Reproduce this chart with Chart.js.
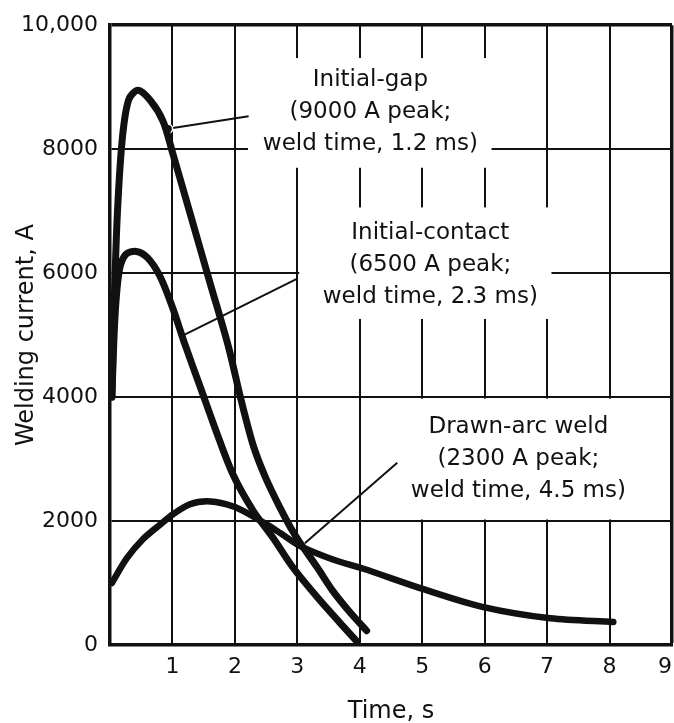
<!DOCTYPE html>
<html>
<head>
<meta charset="utf-8">
<script src="https://cdn.jsdelivr.net/npm/chart.js@4.4.1/dist/chart.umd.min.js"></script>
<style>
  html, body { margin: 0; padding: 0; background: #fff; overflow: hidden; }
  #wrap { width: 674px; height: 723px; position: relative; }
  canvas { display: block; }
</style>
</head>
<body>
<div id="wrap"><canvas id="chart-soldadura"></canvas></div>
<script>
/*
  ==================================================
  ====================== DATOS ======================
  ==================================================
*/

// Initial-gap (9000 A peak)
const tiempoGap = [0.03, 0.07, 0.12, 0.20, 0.30, 0.45, 0.65, 0.85, 1.00, 1.30, 1.60, 1.90, 2.10, 2.30, 2.50, 2.72, 2.90, 3.05, 3.32, 3.57, 3.85, 4.11];
const corrienteGap = [4000, 5600, 7000, 8200, 8800, 8950, 8780, 8450, 7950, 6900, 5850, 4800, 3950, 3200, 2680, 2220, 1880, 1640, 1250, 870, 520, 230];

// Initial-contact (6500 A peak)
const tiempoContacto = [0.03, 0.08, 0.15, 0.25, 0.42, 0.60, 0.80, 1.00, 1.20, 1.45, 1.70, 1.97, 2.29, 2.61, 2.93, 3.32, 3.69, 3.96];
const corrienteContacto = [4000, 5300, 6050, 6300, 6350, 6250, 5950, 5450, 4850, 4150, 3450, 2750, 2170, 1730, 1250, 770, 350, 50];

// Drawn-arc weld (2300 A peak)
const tiempoArco = [0.03, 0.27, 0.53, 0.80, 1.01, 1.28, 1.55, 1.87, 2.10, 2.50, 2.75, 3.04, 3.57, 4.06, 5.02, 5.98, 7.05, 8.06];
const corrienteArco = [1000, 1400, 1710, 1940, 2110, 2270, 2320, 2270, 2180, 1950, 1790, 1600, 1380, 1230, 900, 610, 430, 370];

// lineas guia de las etiquetas
const guiaGapX = [0.93, 2.22];
const guiaGapY = [8330, 8530];
const guiaContactoX = [1.18, 3.0];
const guiaContactoY = [5000, 5910];
const guiaArcoX = [3.12, 4.6];
const guiaArcoY = [1640, 2940];

const xTickLabels = ['', '1', '2', '3', '4', '5', '6', '7', '8', '9'];
const yTickLabels = ['0', '2000', '4000', '6000', '8000', '10,000'];

const textoGap = ['Initial-gap', '(9000 A peak;', 'weld time, 1.2 ms)'];
const textoContacto = ['Initial-contact', '(6500 A peak;', 'weld time, 2.3 ms)'];
const textoArco = ['Drawn-arc weld', '(2300 A peak;', 'weld time, 4.5 ms)'];

/*
  ==================================================
  ==================== AUXILIARES ===================
  ==================================================
*/

/** @param {number[]} xs @param {number[]} ys */
let puntos = (xs, ys) => xs.map((x, i) => ({ x, y: ys[i] }));

const FUENTE = "'DejaVu Sans', sans-serif";
const NEGRO = '#111';

// cajas blancas (en unidades de datos) que tapan la reticula detras del texto
const etiquetas = [
  { texto: textoGap, cx: 4.17, base: 9020, caja: [2.21, 6.11, 7700, 9470] },
  { texto: textoContacto, cx: 5.13, base: 6550, caja: [3.03, 7.07, 5260, 7060] },
  { texto: textoArco, cx: 6.54, base: 3420, caja: [4.04, 8.96, 2025, 3975] }
];

const pluginEtiquetas = {
  id: 'etiquetas',
  beforeDatasetsDraw(chart) {
    const { ctx, scales: { x, y } } = chart;
    ctx.save();
    etiquetas.forEach(et => {
      let [x0, x1, y0, y1] = et.caja;
      let px0 = x.getPixelForValue(x0), px1 = x.getPixelForValue(x1);
      let py0 = y.getPixelForValue(y1), py1 = y.getPixelForValue(y0);
      ctx.fillStyle = '#fff';
      ctx.fillRect(px0, py0, px1 - px0, py1 - py0);

      ctx.fillStyle = NEGRO;
      ctx.font = `23px ${FUENTE}`;
      ctx.textAlign = 'center';
      ctx.textBaseline = 'alphabetic';
      let cx = x.getPixelForValue(et.cx);
      let by = y.getPixelForValue(et.base);
      et.texto.forEach((t, i) => ctx.fillText(t, cx, by + i * 32));
    });
    ctx.restore();
  }
};

/*
  ==================================================
  ===================== GRAFICO =====================
  ==================================================
*/

let curva = (data, ancho) => ({
  data,
  borderColor: NEGRO,
  backgroundColor: NEGRO,
  borderWidth: ancho,
  borderCapStyle: 'round',
  borderJoinStyle: 'round',
  tension: 0.3,
  pointRadius: 0,
  fill: false
});

let guia = (data, radios) => ({
  data,
  borderColor: NEGRO,
  borderWidth: 2,
  pointRadius: radios,
  pointBackgroundColor: NEGRO,
  pointBorderColor: '#fff',
  pointBorderWidth: 1.5,
  tension: 0,
  fill: false
});

/** @type {CanvasRenderingContext2D} */
let canvas = document.getElementById('chart-soldadura').getContext('2d');

new Chart(canvas, {
  type: 'line',
  data: {
    datasets: [
      curva(puntos(tiempoGap, corrienteGap), 7),
      curva(puntos(tiempoContacto, corrienteContacto), 7),
      curva(puntos(tiempoArco, corrienteArco), 6.5),
      guia(puntos(guiaGapX, guiaGapY), [4.5, 0]),
      guia(puntos(guiaContactoX, guiaContactoY), 0),
      guia(puntos(guiaArcoX, guiaArcoY), 0)
    ]
  },
  options: {
    responsive: true,
    maintainAspectRatio: false,
    animation: false,
    events: [],
    layout: { autoPadding: false, padding: { top: 22, right: 2, bottom: 0, left: 0 } },
    plugins: { legend: { display: false }, tooltip: { enabled: false } },
    scales: {
      x: {
        type: 'linear',
        min: 0,
        max: 9,
        // sin margen extra por la etiqueta "9" del borde
        afterFit: s => { s.height = 78; s.paddingLeft = 0; s.paddingRight = 0; },
        border: { display: true, color: NEGRO, width: 3.5 },
        grid: {
          color: NEGRO,
          lineWidth: c => (c.tick && c.tick.value === 9 ? 3.5 : 2),
          drawTicks: false
        },
        ticks: {
          stepSize: 1,
          padding: 9,
          align: 'inner',
          color: NEGRO,
          font: { family: FUENTE, size: 22 },
          maxRotation: 0,
          autoSkip: false,
          callback: (v, i) => xTickLabels[i]
        },
        title: {
          display: true,
          text: 'Time, s',
          color: NEGRO,
          font: { family: FUENTE, size: 24, lineHeight: 0.9 },
          padding: 0
        }
      },
      y: {
        min: 0,
        max: 10000,
        afterFit: s => { s.width = 110; },
        border: { display: true, color: NEGRO, width: 3.5 },
        grid: {
          color: NEGRO,
          lineWidth: c => (c.tick && c.tick.value === 10000 ? 3.5 : 2),
          drawTicks: false
        },
        ticks: {
          stepSize: 2000,
          padding: 12,
          color: NEGRO,
          font: { family: FUENTE, size: 22 },
          callback: (v, i) => yTickLabels[i]
        },
        title: {
          display: true,
          text: 'Welding current, A',
          color: NEGRO,
          font: { family: FUENTE, size: 24 },
          padding: { top: 12, bottom: 0 }
        }
      }
    }
  },
  plugins: [pluginEtiquetas]
});
</script>
</body>
</html>
